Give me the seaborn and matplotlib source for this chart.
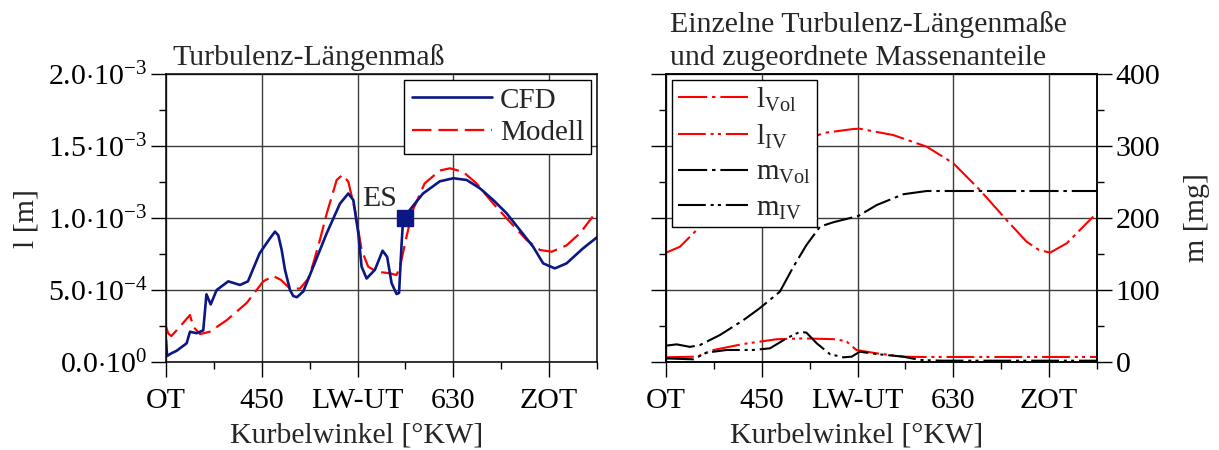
import matplotlib
matplotlib.use("Agg")
import matplotlib.pyplot as plt
from matplotlib.ticker import MultipleLocator, FixedLocator, FixedFormatter
from matplotlib.lines import Line2D
import numpy as np
import pandas as pd
import seaborn as sns

# Turbulence length scale, CFD vs. model (crank angle in °KW, length in mm)
cfd_kw = [360.0, 361.0, 365.0, 370.0, 379.4, 382.5, 388.8, 395.0, 398.0, 402.0, 407.6,
          418.5, 429.5, 437.0, 448.0, 457.7, 462.4, 465.5, 468.7, 471.8, 476.5, 479.6,
          483.0, 489.0, 498.4, 511.0, 523.5, 531.3, 536.0, 540.7, 543.8, 548.5, 556.3,
          563.5, 567.8, 572.0, 576.7, 579.0, 581.4, 582.8, 589.0, 601.5, 617.4, 630.0,
          642.5, 655.0, 667.5, 680.0, 692.5, 705.0, 714.4, 725.4, 736.4, 752.0, 765.0]
cfd_l_mm = [0.153, 0.042, 0.060, 0.078, 0.130, 0.210, 0.200, 0.220, 0.470, 0.400, 0.500,
            0.560, 0.535, 0.560, 0.755, 0.859, 0.905, 0.880, 0.778, 0.640, 0.500, 0.458,
            0.450, 0.490, 0.662, 0.894, 1.100, 1.170, 1.125, 0.894, 0.662, 0.580, 0.640,
            0.773, 0.730, 0.547, 0.472, 0.480, 0.824, 0.986, 1.055, 1.170, 1.255, 1.276,
            1.264, 1.206, 1.125, 1.033, 0.917, 0.800, 0.685, 0.650, 0.685, 0.790, 0.866]

mod_kw = [360.0, 362.0, 365.0, 373.0, 382.5, 385.6, 392.0, 401.0, 417.0, 435.8, 451.4,
          460.8, 468.0, 476.5, 486.0, 493.7, 498.4, 504.7, 511.0, 520.4, 526.0, 531.3,
          537.6, 543.8, 550.0, 558.0, 570.4, 576.6, 579.8, 586.0, 592.0, 603.0, 617.4,
          626.8, 639.3, 651.8, 667.5, 683.0, 698.9, 711.4, 722.4, 736.4, 749.0, 761.0]
mod_l_mm = [0.245, 0.200, 0.180, 0.245, 0.326, 0.245, 0.194, 0.210, 0.290, 0.410, 0.560,
            0.597, 0.570, 0.510, 0.510, 0.580, 0.685, 0.850, 1.030, 1.264, 1.300, 1.252,
            1.055, 0.778, 0.662, 0.627, 0.616, 0.604, 0.660, 0.870, 1.055, 1.240, 1.330,
            1.345, 1.320, 1.240, 1.100, 0.974, 0.847, 0.778, 0.766, 0.810, 0.894, 1.010]

# Inlet valve closing (ES)
es_kw = 585.0
es_l_mm = 1.0

# Individual length scales (mm) and associated mass fractions (mg)
lvol_kw = [360.0, 373.0, 392.0, 420.0, 450.0, 480.0, 509.4, 536.0, 542.0, 573.5, 605.0,
           630.0, 655.0, 680.0, 698.9, 710.0, 720.8, 736.5, 761.5]
lvol_mm = [0.759, 0.800, 0.940, 1.170, 1.380, 1.520, 1.592, 1.618, 1.620, 1.576, 1.495,
           1.380, 1.194, 0.986, 0.835, 0.780, 0.759, 0.824, 1.010]

liv_kw = [360.0, 389.0, 404.4, 432.6, 464.0, 489.0, 520.4, 529.8, 539.0, 558.0, 583.0,
          600.0, 765.0]
liv_mm = [0.033, 0.037, 0.083, 0.125, 0.158, 0.164, 0.158, 0.141, 0.083, 0.060, 0.037,
          0.035, 0.035]

mvol_kw = [360.0, 370.0, 382.5, 392.0, 410.7, 432.6, 448.0, 467.0, 479.6, 492.0, 504.7,
           517.0, 540.7, 558.0, 583.0, 605.0, 765.0]
mvol_mg = [22.7, 24.5, 21.0, 23.6, 37.5, 58.0, 74.6, 97.7, 132.0, 162.5, 188.0,
           194.0, 202.8, 218.0, 233.0, 237.5, 237.5]

miv_kw = [360.0, 385.6, 398.0, 417.0, 442.0, 457.7, 473.4, 486.0, 492.0, 501.6, 514.0,
          526.6, 534.5, 542.0, 558.0, 583.0, 598.6, 620.0, 765.0]
miv_mg = [5.0, 3.7, 13.0, 16.7, 16.7, 19.0, 33.0, 42.0, 40.7, 26.0, 11.0,
          6.5, 7.4, 14.3, 11.0, 7.4, 2.8, 1.8, 1.8]

x_ticks = [360, 450, 540, 630, 720]
x_ticklabels = ["OT", "450", "LW-UT", "630", "ZOT"]
l_ticks = [0.0, 0.5e-3, 1.0e-3, 1.5e-3, 2.0e-3]
l_ticklabels = [r"$0.0{\cdot}10^{0}$", r"$5.0{\cdot}10^{-4}$", r"$1.0{\cdot}10^{-3}$",
                r"$1.5{\cdot}10^{-3}$", r"$2.0{\cdot}10^{-3}$"]

FS = 21.5
FS_TICK = 21.5
FS_LEG = 21
sns.set_theme(style="ticks")
plt.rcParams.update({
    "font.family": ["Liberation Serif", "DejaVu Serif"],
    "mathtext.fontset": "custom",
    "mathtext.rm": "Liberation Serif",
    "mathtext.it": "Liberation Serif:italic",
    "mathtext.bf": "Liberation Serif:bold",
    "font.size": FS,
    "lines.scale_dashes": False,
    "axes.edgecolor": "black",
    "axes.linewidth": 1.1,
    "xtick.color": "black",
    "ytick.color": "black",
    "xtick.direction": "out",
    "ytick.direction": "out",
    "xtick.major.size": 10.5,
    "xtick.minor.size": 5,
    "ytick.major.size": 10.5,
    "ytick.minor.size": 5,
    "xtick.major.width": 1.0,
    "ytick.major.width": 1.0,
    "xtick.minor.width": 1.0,
    "ytick.minor.width": 1.0,
    "xtick.labelsize": FS_TICK,
    "ytick.labelsize": FS_TICK,
})

BLUE = "#0b1784"
RED = "#ff0000"
GRID = "#3c3c3c"

dash_mod = (0, (14, 5))
dash_1dot = (0, (21, 3.5, 2.5, 3.5))
dash_2dot = (0, (20, 3.5, 2.2, 3.0, 2.2, 3.5))

fig = plt.figure(figsize=(12.19, 4.5), dpi=100)
ax1 = fig.add_axes([166 / 1219, 88 / 450, 431 / 1219, 288 / 450])
ax2 = fig.add_axes([666 / 1219, 88 / 450, 431 / 1219, 288 / 450])


def style_x(ax):
    ax.set_xlim(360, 765)
    ax.xaxis.set_major_locator(FixedLocator(x_ticks))
    ax.xaxis.set_major_formatter(FixedFormatter(x_ticklabels))
    ax.xaxis.set_minor_locator(MultipleLocator(45))
    ax.tick_params(axis="x", which="both", top=False, pad=8)
    ax.set_xlabel("Kurbelwinkel [°KW]", fontsize=FS)
    ax.xaxis.set_label_coords(0.443, -0.21)
    ax.grid(True, which="major", color=GRID, linewidth=1.0)


def style_l(ax, labels=True):
    ax.set_ylim(0, 2.0e-3)
    ax.yaxis.set_major_locator(FixedLocator(l_ticks))
    ax.yaxis.set_minor_locator(MultipleLocator(0.25e-3))
    if labels:
        ax.yaxis.set_major_formatter(FixedFormatter(l_ticklabels))
    else:
        ax.yaxis.set_major_formatter(FixedFormatter([""] * len(l_ticks)))
    ax.tick_params(axis="y", which="both", right=False, pad=3)


# ---- left panel: turbulence length scale
cfd_df = pd.DataFrame({"kw": cfd_kw, "l": np.array(cfd_l_mm) * 1e-3})
mod_df = pd.DataFrame({"kw": mod_kw, "l": np.array(mod_l_mm) * 1e-3})

sns.lineplot(data=mod_df, x="kw", y="l", ax=ax1, color=RED, linewidth=1.6,
             sort=False, estimator=None)
ax1.lines[-1].set_linestyle(dash_mod)
sns.lineplot(data=cfd_df, x="kw", y="l", ax=ax1, color=BLUE, linewidth=1.9,
             sort=False, estimator=None)
ax1.plot([es_kw], [es_l_mm * 1e-3], marker="s", markersize=11.5, color=BLUE,
         linestyle="none", zorder=5)
ax1.annotate("ES", (es_kw, es_l_mm * 1e-3), xytext=(-6, 4), textcoords="offset points",
             ha="right", va="bottom", fontsize=FS)

style_x(ax1)
style_l(ax1)
ax1.set_ylabel("l [m]", fontsize=FS, labelpad=6)
ax1.text(0.015, 1.01, "Turbulenz-Längenmaß", transform=ax1.transAxes,
         ha="left", va="bottom", fontsize=FS)

leg_h1 = [Line2D([], [], color=BLUE, linewidth=1.9),
          Line2D([], [], color=RED, linewidth=1.6, linestyle=dash_mod)]
leg1 = ax1.legend(leg_h1, ["CFD", "Modell"], loc="upper right", fontsize=FS_LEG,
                  frameon=True, fancybox=False, framealpha=1, edgecolor="black",
                  handlelength=2.75, handletextpad=0.27, borderpad=0.25,
                  labelspacing=0.22, borderaxespad=0.2)
leg1.get_frame().set_linewidth(1.0)

# ---- right panel: individual length scales and mass fractions
axm = ax2.twinx()
lvol_df = pd.DataFrame({"kw": lvol_kw, "v": np.array(lvol_mm) * 1e-3})
liv_df = pd.DataFrame({"kw": liv_kw, "v": np.array(liv_mm) * 1e-3})
mvol_df = pd.DataFrame({"kw": mvol_kw, "v": mvol_mg})
miv_df = pd.DataFrame({"kw": miv_kw, "v": miv_mg})

sns.lineplot(data=lvol_df, x="kw", y="v", ax=ax2, color=RED, linewidth=1.5,
             sort=False, estimator=None)
ax2.lines[-1].set_linestyle(dash_1dot)
sns.lineplot(data=liv_df, x="kw", y="v", ax=ax2, color=RED, linewidth=1.5,
             sort=False, estimator=None)
ax2.lines[-1].set_linestyle(dash_2dot)
sns.lineplot(data=mvol_df, x="kw", y="v", ax=axm, color="black", linewidth=1.5,
             sort=False, estimator=None)
axm.lines[-1].set_linestyle(dash_1dot)
sns.lineplot(data=miv_df, x="kw", y="v", ax=axm, color="black", linewidth=1.5,
             sort=False, estimator=None)
axm.lines[-1].set_linestyle(dash_2dot)

style_x(ax2)
style_l(ax2, labels=False)
ax2.set_ylabel("")
axm.set_xlim(360, 765)
axm.set_ylim(0, 400)
axm.yaxis.set_major_locator(MultipleLocator(100))
axm.yaxis.set_minor_locator(MultipleLocator(50))
axm.tick_params(axis="y", which="both", right=True, left=False, pad=3)
axm.set_ylabel("m [mg]", fontsize=FS, labelpad=17)
axm.set_xlabel("")
axm.grid(False)
ax2.text(0.01, 1.01, "Einzelne Turbulenz-Längenmaße\nund zugeordnete Massenanteile",
         transform=ax2.transAxes, ha="left", va="bottom", fontsize=FS, linespacing=1.38)

leg_h2 = [Line2D([], [], color=RED, linewidth=1.5, linestyle=dash_1dot),
          Line2D([], [], color=RED, linewidth=1.5, linestyle=dash_2dot),
          Line2D([], [], color="black", linewidth=1.5, linestyle=dash_1dot),
          Line2D([], [], color="black", linewidth=1.5, linestyle=dash_2dot)]
leg_lab2 = [r"$\mathrm{l_{Vol}}$", r"$\mathrm{l_{IV}}$",
            r"$\mathrm{m_{Vol}}$", r"$\mathrm{m_{IV}}$"]
leg2 = axm.legend(leg_h2, leg_lab2, loc="upper left", fontsize=FS_LEG,
                  frameon=True, fancybox=False, framealpha=1, edgecolor="black",
                  handlelength=2.4, handletextpad=0.3, borderpad=0.2,
                  labelspacing=0.3, borderaxespad=0.2)
leg2.get_frame().set_linewidth(1.0)

fig.savefig("out.png", dpi=100, facecolor="white")
